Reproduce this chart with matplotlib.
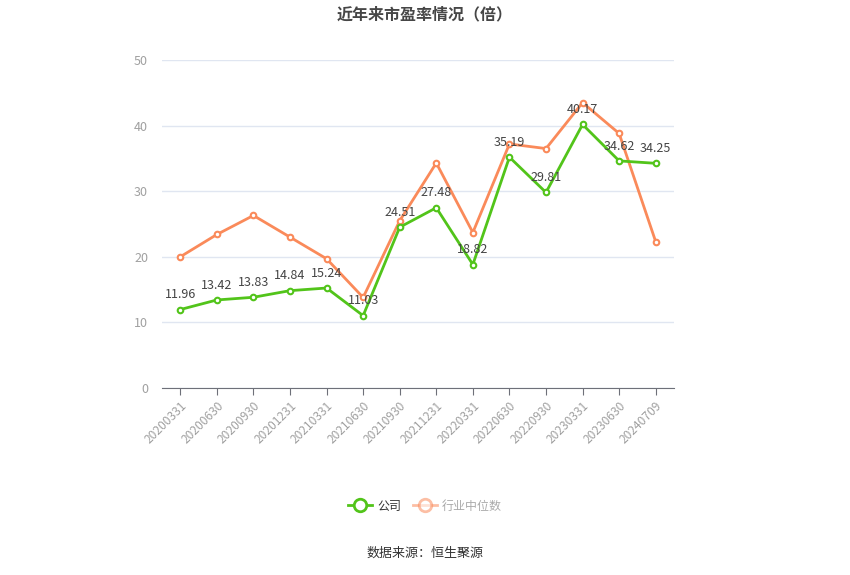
import matplotlib
matplotlib.use("Agg")
import matplotlib.pyplot as plt
from matplotlib.lines import Line2D

plt.rcParams['font.family'] = ['Noto Sans CJK SC', 'DejaVu Sans']

categories = ["20200331", "20200630", "20200930", "20201231", "20210331", "20210630",
              "20210930", "20211231", "20220331", "20220630", "20220930", "20230331",
              "20230630", "20240709"]
company = [11.96, 13.42, 13.83, 14.84, 15.24, 11.03, 24.51, 27.48, 18.82, 35.19,
           29.81, 40.17, 34.62, 34.25]
industry = [20.0, 23.4, 26.3, 23.0, 19.7, 13.8, 25.5, 34.3, 23.7, 37.2, 36.5, 43.5,
            38.8, 22.3]
yticks = [0, 10, 20, 30, 40, 50]

green = "#52c41a"
orange = "#fa8a5a"
px = 72 / 100

fig = plt.figure(figsize=(8.5, 5.75), dpi=100)
ax = fig.add_axes([162 / 850, 1 - 388 / 575, (674 - 162) / 850, (388 - 60) / 575])

x = list(range(len(categories)))
ax.plot(x, industry, color=orange, lw=2, marker='o', ms=4, mfc='white', mec=orange,
        mew=1.5, zorder=3)
ax.plot(x, company, color=green, lw=2, marker='o', ms=4, mfc='white', mec=green,
        mew=1.5, zorder=4)
for xi, v in zip(x, company):
    ax.annotate(f"{v:.2f}", (xi, v), xytext=(0, 6), textcoords='offset points',
                ha='center', va='bottom', fontsize=12.5 * px, color='#444444', zorder=5)

ax.set_xlim(-0.5, len(categories) - 0.5)
ax.set_ylim(0, 50)
ax.set_yticks(yticks)
ax.set_xticks(x)
ax.set_xticklabels(categories, rotation=45, ha='right', rotation_mode='anchor',
                   fontsize=12 * px, color='#a0a0a0')
ax.tick_params(axis='y', length=0, labelsize=12.5 * px, labelcolor='#a0a0a0', pad=10)
ax.tick_params(axis='x', length=5, color='#6e7079', pad=3)
ax.grid(axis='y', color='#e0e6f1', lw=1)
ax.set_axisbelow(True)
for s in ['top', 'right', 'left']:
    ax.spines[s].set_visible(False)
ax.spines['bottom'].set_color('#6e7079')

fig.text(0.5, 1 - 14 / 575, "近年来市盈率情况（倍）", ha='center', va='center',
         fontsize=16 * px, fontweight='bold', color='#464646')

h1 = Line2D([], [], color=green, lw=2, marker='o', ms=9, mfc='white', mec=green, mew=2)
h2 = Line2D([], [], color=orange, lw=2, marker='o', ms=9, mfc='white', mec=orange,
            mew=2, alpha=0.55)
leg = fig.legend([h1, h2], ["公司", "行业中位数"], loc='center',
                 bbox_to_anchor=(0.5, 1 - 506 / 575), ncol=2, frameon=False,
                 fontsize=12 * px, handlelength=2.0, handletextpad=0.4, columnspacing=1.0)
leg.get_texts()[0].set_color('#333333')
leg.get_texts()[1].set_color('#aaaaaa')

fig.text(0.5, 1 - 553 / 575, "数据来源：恒生聚源", ha='center', va='center',
         fontsize=13 * px, color='#333333')

fig.savefig("out.png", dpi=100)
